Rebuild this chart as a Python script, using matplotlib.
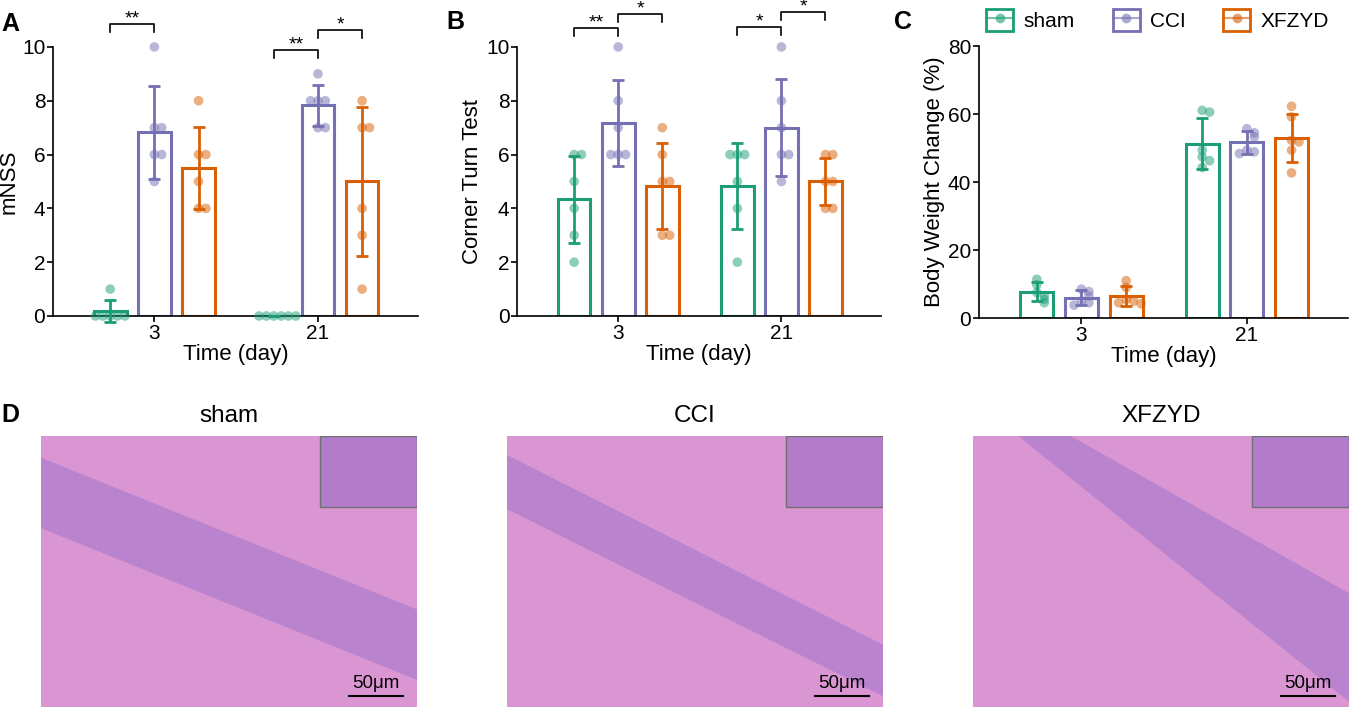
import numpy as np
import matplotlib.pyplot as plt
from matplotlib.patches import Patch, Polygon, Rectangle
from matplotlib.lines import Line2D

plt.rcParams['font.family'] = ['Liberation Sans', 'DejaVu Sans']

groups = ["sham", "CCI", "XFZYD"]
colors = ["#1b9e77", "#7570b3", "#d95f02"]
days = ["3", "21"]

# mNSS (A): points per group, [day3, day21]
mnss_pts = {
    "sham": [[1, 0, 0, 0, 0, 0], [0, 0, 0, 0, 0, 0]],
    "CCI": [[10, 7, 7, 6, 6, 5], [9, 8, 8, 8, 7, 7]],
    "XFZYD": [[8, 6, 6, 5, 4, 4], [8, 7, 7, 4, 3, 1]],
}
mnss_mean = {"sham": [0.17, 0.0], "CCI": [6.83, 7.83], "XFZYD": [5.5, 5.0]}
mnss_sd = {"sham": [0.41, 0.0], "CCI": [1.72, 0.75], "XFZYD": [1.52, 2.76]}

# Corner Turn Test (B)
ctt_pts = {
    "sham": [[6, 6, 5, 4, 3, 2], [6, 6, 6, 5, 4, 2]],
    "CCI": [[10, 8, 7, 6, 6, 6], [10, 8, 7, 6, 6, 5]],
    "XFZYD": [[7, 6, 5, 5, 3, 3], [6, 6, 5, 5, 4, 4]],
}
ctt_mean = {"sham": [4.33, 4.83], "CCI": [7.17, 7.0], "XFZYD": [4.83, 5.0]}
ctt_sd = {"sham": [1.63, 1.6], "CCI": [1.6, 1.79], "XFZYD": [1.6, 0.89]}

# Body weight change % (C)
bw_pts = {
    "sham": [[11.4, 9.8, 7.5, 6.5, 5.5, 4.5], [61.1, 60.6, 49.4, 47.4, 46.3, 44.3]],
    "CCI": [[8.5, 7.8, 6.5, 5.0, 4.5, 3.8], [55.7, 54.5, 53.3, 49.4, 48.9, 48.4]],
    "XFZYD": [[11.0, 9.0, 5.5, 5.0, 4.5, 4.2], [62.3, 59.2, 52.3, 51.8, 49.4, 42.7]],
}
bw_mean = {"sham": [7.8, 51.3], "CCI": [6.0, 51.7], "XFZYD": [6.5, 53.0]}
bw_sd = {"sham": [2.7, 7.5], "CCI": [2.3, 3.3], "XFZYD": [3.0, 7.0]}

# significance brackets: (day index, group a, group b, y, label)
sig_a = [(0, 0, 1, 10.85, "**"), (1, 0, 1, 9.89, "**"), (1, 1, 2, 10.63, "*")]
sig_b = [(0, 0, 1, 10.7, "**"), (0, 1, 2, 11.23, "*"), (1, 0, 1, 10.74, "*"), (1, 1, 2, 11.3, "*")]

offset = 0.27
bar_w = 0.2


def spread(vals, tol, step=0.045):
    # simple beeswarm-like offsets for points with close values
    off = []
    for i, v in enumerate(vals):
        k = sum(1 for j in range(i) if abs(vals[j] - v) < tol)
        s = (k + 1) // 2
        off.append(0 if k == 0 else (s * step if k % 2 else -s * step))
    return np.array(off)


def bar_panel(ax, pts, means, sds, ymax, step, ylabel, tol):
    for gi, g in enumerate(groups):
        c = colors[gi]
        for di in range(2):
            x = di + (gi - 1) * offset
            ax.bar(x, means[g][di], width=bar_w, facecolor="white", edgecolor=c,
                   linewidth=2.2, zorder=2)
            v = pts[g][di]
            ax.scatter(x + spread(v, tol), v, s=48, color=c, alpha=0.5,
                       edgecolors="none", zorder=3, clip_on=False)
            ax.errorbar(x, means[g][di], yerr=sds[g][di], color=c, capsize=4,
                        capthick=2, elinewidth=2, zorder=4, clip_on=False)
    ax.set_xlim(-0.62, 1.61)
    ax.set_ylim(0, ymax)
    ax.set_yticks(np.arange(0, ymax + 0.01, step))
    ax.set_xticks([0, 1])
    ax.set_xticklabels(days)
    ax.spines["top"].set_visible(False)
    ax.spines["right"].set_visible(False)
    ax.spines["left"].set_linewidth(1.2)
    ax.spines["bottom"].set_linewidth(1.2)
    ax.tick_params(labelsize=15, width=1.2, length=4, pad=1.5)
    ax.set_xlabel("Time (day)", fontsize=16, labelpad=1)
    ax.set_ylabel(ylabel, fontsize=16, labelpad=2)


def brackets(ax, sigs, ymax):
    leg = ymax * 0.03
    for di, a, b, y, lab in sigs:
        xa = di + (a - 1) * offset
        xb = di + (b - 1) * offset
        ax.plot([xa, xa, xb, xb], [y - leg, y, y, y - leg], color="black", lw=1.2,
                clip_on=False)
        ax.text((xa + xb) / 2, y - ymax * 0.012, lab, ha="center", va="bottom",
                fontsize=14)


fig = plt.figure(figsize=(13.51, 7.08), dpi=100)

axA = fig.add_axes([0.0392, 0.5537, 0.270, 0.380])
bar_panel(axA, mnss_pts, mnss_mean, mnss_sd, 10, 2, "mNSS", 0.3)
brackets(axA, sig_a, 10)

axB = fig.add_axes([0.3827, 0.5537, 0.2694, 0.380])
bar_panel(axB, ctt_pts, ctt_mean, ctt_sd, 10, 2, "Corner Turn Test", 0.3)
brackets(axB, sig_b, 10)

axC = fig.add_axes([0.7246, 0.5508, 0.273, 0.384])
bar_panel(axC, bw_pts, bw_mean, bw_sd, 80, 20, "Body Weight Change (%)", 1.5)

handles = [(Patch(facecolor="white", edgecolor=c, linewidth=2),
            Line2D([], [], color=c, lw=1.5, marker="o", markersize=7,
                   markerfacecolor=c, markeredgecolor="none", alpha=0.6))
           for c in colors]
fig.legend(handles, groups, loc="center", bbox_to_anchor=(0.857, 0.972), ncol=3,
           frameon=False, fontsize=15, handlelength=1.3, handleheight=1.25,
           columnspacing=1.8, handletextpad=0.5)

for lab, x, y in [("A", 10, 24), ("B", 455, 22), ("C", 903, 22), ("D", 10, 415)]:
    fig.text(x / 1351, 1 - y / 708, lab, fontsize=18, fontweight="bold",
             ha="center", va="center")

# panel D: stylised H&E micrographs
bands = {
    "sham": [(0, 0.92), (0, 0.66), (1, 0.10), (1, 0.36)],
    "CCI": [(0, 0.93), (0, 0.73), (1, 0.04), (1, 0.23)],
    "XFZYD": [(0.12, 1), (0.26, 1), (1, 0.42), (1, 0.02)],
}
img_left = [41, 507, 973]
for gi, g in enumerate(groups):
    ax = fig.add_axes([img_left[gi] / 1351, 0.0014, 376 / 1351, 271 / 708])
    ax.set_facecolor("#da95d3")
    ax.add_patch(Polygon(bands[g], closed=True, facecolor="#9a74c8", alpha=0.5,
                         edgecolor="none"))
    ax.add_patch(Rectangle((0.742, 0.738), 0.258, 0.262, facecolor="#b27ccb",
                           edgecolor="#707070", lw=1))
    ax.plot([0.82, 0.962], [0.04, 0.04], color="black", lw=1.5)
    ax.text(0.891, 0.055, "50μm", ha="center", va="bottom", fontsize=13.5)
    ax.set_xlim(0, 1)
    ax.set_ylim(0, 1)
    ax.set_xticks([])
    ax.set_yticks([])
    for s in ax.spines.values():
        s.set_visible(False)
    ax.set_title(g, fontsize=17.5, pad=10)

fig.savefig("out.png", dpi=100)
